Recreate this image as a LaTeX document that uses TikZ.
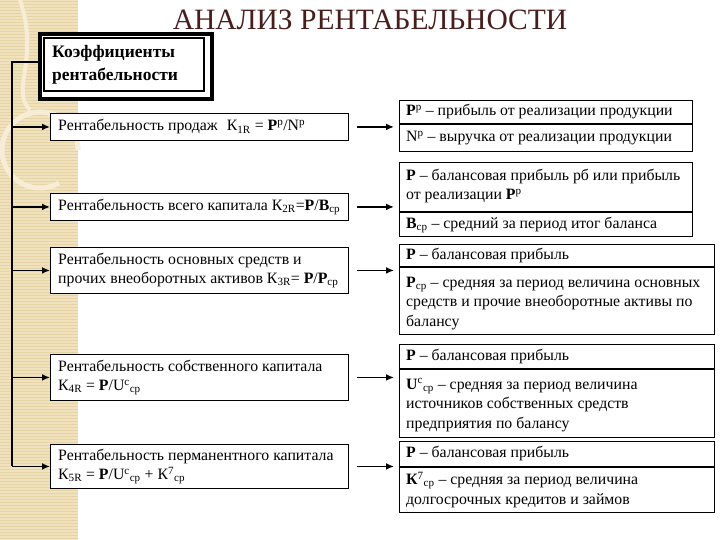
\documentclass[tikz,border=0pt]{standalone}
\usepackage{fontspec}
\setmainfont{Liberation Serif}
\usetikzlibrary{arrows.meta}
\newcommand{\lo}[1]{\textsubscript{#1}}
\newcommand{\hi}[1]{\textsuperscript{#1}}
\definecolor{beige}{HTML}{F1E2BE}
\definecolor{beigeline}{HTML}{E6D3A6}
\definecolor{beigelight}{HTML}{F7EDD6}
\definecolor{titlecol}{HTML}{4B1C1C}
\begin{document}
\begin{tikzpicture}[x=1pt,y=-1pt,
  font=\fontsize{15.8}{19.5}\selectfont,
  lbox/.style={draw=black, line width=0.9pt, anchor=north west, inner sep=0pt, fill=white},
  rbox/.style={draw=black, line width=1.2pt, anchor=north west, inner sep=0pt, fill=white},
  txt/.style={anchor=west, inner sep=0pt, align=left},
  arr/.style={-{Latex[length=8pt,width=7pt]}, line width=1.8pt},
  spine/.style={line width=1.8pt}]
\useasboundingbox (0,0) rectangle (720,540);
\fill[white] (0,0) rectangle (720,540);
% textured strip
\fill[beige] (0,0) rectangle (78,540);
\foreach \y in {1,4,...,540} \draw[beigeline, line width=0.7pt] (0,\y) -- (78,\y);
\draw[beigelight, line width=5pt] (78,150) arc[start angle=0, end angle=-300, radius=38];
\draw[beigelight, line width=4pt] (20,0) .. controls (40,60) and (10,90) .. (30,110);
% title
\node[font=\fontsize{29.5}{31}\selectfont, text=titlecol, inner sep=0pt] (title) at (370,20) {АНАЛИЗ РЕНТАБЕЛЬНОСТИ};
% header box
\node[draw=black, line width=4pt, anchor=north west, minimum width=172pt, minimum height=65pt, inner sep=0pt, fill=white] (K) at (38,32) {};
\draw[line width=1.5pt] (44,38) rectangle (204,91);
\node[txt, font=\fontsize{17.5}{23}\selectfont\bfseries] (Kt) at (52,64.5) {Коэффициенты\\рентабельности};
% left boxes
\node[lbox, minimum width=298pt, minimum height=27pt] (L1) at (50,113) {};
\node[txt] (L1t) at (L1.center -| 58,0) {Рентабельность продаж\hspace{9pt}К\lo{1R} = \textbf{P}\hi{р}/N\hi{р}};
\node[lbox, minimum width=298pt, minimum height=27pt] (L2) at (50,193) {};
\node[txt] (L2t) at (L2.center -| 58,0) {Рентабельность всего капитала К\lo{2R}=\textbf{P}/\textbf{B}\lo{ср}};
\node[lbox, minimum width=298pt, minimum height=46pt] (L3) at (50,247) {};
\node[txt] (L3t) at (L3.center -| 58,0) {Рентабельность основных средств и\\прочих внеоборотных активов К\lo{3R}= \textbf{P}/\textbf{P}\lo{ср}};
\node[lbox, minimum width=298pt, minimum height=46pt] (L4) at (50,354) {};
\node[txt] (L4t) at (L4.center -| 58,0) {Рентабельность собственного капитала\\К\lo{4R} = \textbf{P}/U\hi{с}\lo{ср}};
\node[lbox, minimum width=298pt, minimum height=44pt] (L5) at (50,444) {};
\node[txt] (L5t) at (L5.center -| 58,0) {Рентабельность перманентного капитала\\К\lo{5R} = \textbf{P}/U\hi{с}\lo{ср} + К\hi{7}\lo{ср}};
% spine
\coordinate (s0) at (12,62);
\coordinate (s5) at (L5.west -| s0);
\draw[spine] (K.west |- s0) -- (s0) -- (s5);
\draw[arr] (s5) -- (L5.west);
\foreach \n in {L1,L2,L3,L4} \draw[arr] (\n.west -| s0) -- (\n.west);
% right boxes
\node[rbox, minimum width=293pt, minimum height=51pt] (R1) at (399,100) {};
\draw[line width=1.2pt] (R1.west |- 0,124) -- (R1.east |- 0,124);
\node[txt] (R1a) at (406,112) {\textbf{P}\hi{р} – прибыль от реализации продукции};
\node[txt] (R1b) at (406,138) {N\hi{р} – выручка от реализации продукции};
\node[rbox, minimum width=293pt, minimum height=74pt] (R2) at (399,162) {};
\draw[line width=1.2pt] (R2.west |- 0,212) -- (R2.east |- 0,212);
\node[txt] (R2a) at (406,186) {\textbf{P} – балансовая прибыль рб или прибыль\\от реализации \textbf{P}\hi{р}};
\node[txt] (R2b) at (406,225) {\textbf{B}\lo{ср} – средний за период итог баланса};
\node[rbox, minimum width=315pt, minimum height=90pt] (R3) at (399,244) {};
\draw[line width=1.2pt] (R3.west |- 0,267) -- (R3.east |- 0,267);
\node[txt] (R3a) at (406,256) {\textbf{P} – балансовая прибыль};
\node[txt] (R3b) at (406,303.5) {\textbf{P}\lo{ср} – средняя за период величина основных\\средств и прочие внеоборотные активы по\\балансу};
\node[rbox, minimum width=315pt, minimum height=93pt] (R4) at (399,344) {};
\draw[line width=1.2pt] (R4.west |- 0,369) -- (R4.east |- 0,369);
\node[txt] (R4a) at (406,357) {\textbf{P} – балансовая прибыль};
\node[txt] (R4b) at (406,405) {\textbf{U}\hi{с}\lo{ср} – средняя за период величина\\источников собственных средств\\предприятия по балансу};
\node[rbox, minimum width=315pt, minimum height=71pt] (R5) at (399,441) {};
\draw[line width=1.2pt] (R5.west |- 0,467) -- (R5.east |- 0,467);
\node[txt] (R5a) at (406,454) {\textbf{P} – балансовая прибыль};
\node[txt] (R5b) at (406,490) {\textbf{К}\hi{7}\lo{ср} – средняя за период величина\\долгосрочных кредитов и займов};
% arrows left -> right
\draw[arr] ([xshift=8pt]L1.east) -- ([xshift=-5pt]L1.east -| R1.west);
\draw[arr] ([xshift=8pt]L2.east) -- ([xshift=-5pt]L2.east -| R2.west);
\draw[arr] ([xshift=8pt]L3.east) -- ([xshift=-5pt]L3.east -| R3.west);
\draw[arr] ([xshift=8pt]L4.east) -- ([xshift=-5pt]L4.east -| R4.west);
\draw[arr] ([xshift=8pt]L5.east) -- ([xshift=-5pt]L5.east -| R5.west);
\end{tikzpicture}
\end{document}
